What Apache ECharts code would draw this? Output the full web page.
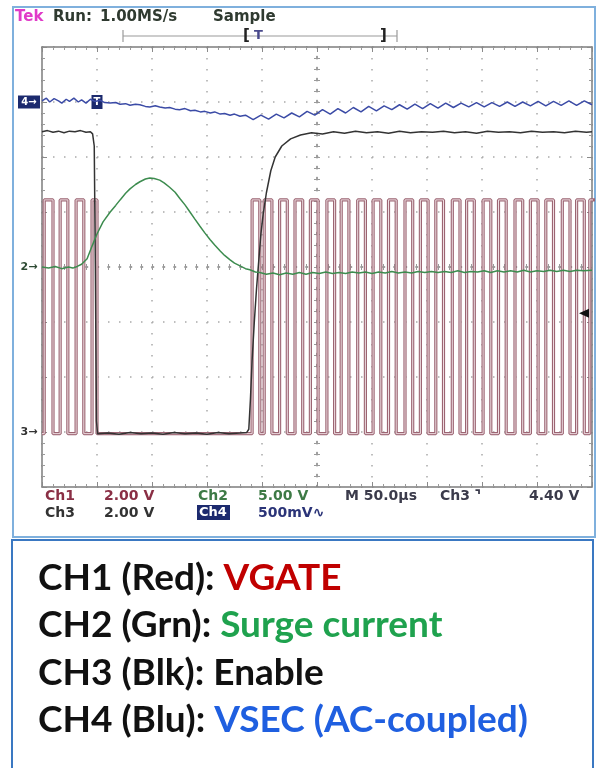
<!DOCTYPE html>
<html lang="en">
<head>
<meta charset="UTF-8">
<title>Scope capture</title>
<script src="https://cdn.jsdelivr.net/npm/echarts@6/dist/echarts.min.js"></script>
<style>
    html, body { margin: 0; padding: 0; background: #fff; }
    #chart { width: 597px; height: 768px; }
</style>
</head>
<body>
<div id="chart"></div>
<script>
// time in µs (10 div x 50 µs), amplitude in screen divisions (0 = bottom graticule line)

// CH1 VGATE: gate pulse edges
var redRise = [2, 16.5, 31, 45.5, 191, 202, 216, 230, 244, 259, 272, 287, 301, 315, 330, 344, 358, 373, 386, 401, 415, 430, 444, 458, 473, 486, 498];
var redFall = [10, 23.5, 38, 50, 198, 209, 223, 237, 251, 266, 279, 294, 308, 322, 337, 351, 365, 380, 393, 408, 422, 437, 451, 465, 480, 493, 506];
var redLevels = [0.97, 5.22]; // low, high

// CH2 surge current
var ch2 = [[0,4.0],[6,3.98],[12,4.01],[18,3.97],[24,4.0],[28,3.98],[32,4.01],[36,4.05],[41,4.15],[45.5,4.38],[50,4.6],[55.5,4.82],[62,5.0],[67,5.12],[71,5.22],[76,5.34],[80,5.42],[85,5.5],[89,5.55],[94,5.6],[98,5.62],[102,5.61],[107,5.58],[111,5.53],[116,5.45],[121,5.36],[125.5,5.24],[130,5.13],[134.5,5.0],[139,4.87],[143.6,4.74],[148,4.62],[152.7,4.5],[157,4.4],[162,4.29],[166,4.21],[171,4.13],[175,4.07],[180,4.02],[185,3.97],[189,3.95],[194,3.91],[198,3.9],[204,3.87],[210,3.89],[216,3.86],[222,3.89],[228,3.87],[234,3.9],[240,3.87],[246,3.9],[252,3.88],[258,3.91],[264,3.88],[270,3.9],[276,3.88],[282,3.91],[288,3.89],[294,3.91],[300,3.88],[306,3.91],[312,3.89],[318,3.92],[324,3.89],[330,3.91],[336,3.89],[342,3.92],[348,3.9],[354,3.92],[360,3.9],[366,3.92],[372,3.9],[378,3.93],[384,3.9],[390,3.92],[396,3.91],[402,3.93],[408,3.9],[414,3.93],[420,3.91],[426,3.93],[432,3.91],[438,3.94],[444,3.91],[450,3.93],[456,3.92],[462,3.94],[468,3.92],[474,3.94],[480,3.92],[486,3.94],[492,3.93],[500,3.94]];

// CH3 enable
var ch3 = [[0,6.46],[5,6.48],[10,6.45],[15,6.47],[20,6.44],[25,6.47],[30,6.46],[35,6.48],[40,6.45],[44,6.46],[46,6.42],[47.5,6.2],[48.5,4.0],[49.5,1.2],[50.5,0.97],[60,0.98],[70,0.96],[80,0.99],[90,0.97],[100,0.98],[110,0.96],[120,0.99],[130,0.97],[140,0.98],[150,0.96],[160,0.99],[170,0.97],[180,0.98],[186,0.99],[188,1.05],[189.5,1.6],[191,2.3],[193,3.0],[195,3.6],[197,4.1],[199,4.6],[201,4.95],[204,5.35],[208,5.75],[212,6.0],[218,6.2],[226,6.33],[235,6.4],[245,6.44],[255,6.42],[265,6.46],[275,6.43],[285,6.47],[295,6.44],[305,6.46],[315,6.43],[325,6.47],[335,6.44],[345,6.46],[355,6.45],[365,6.47],[375,6.44],[385,6.46],[395,6.43],[405,6.47],[415,6.45],[425,6.46],[435,6.44],[445,6.47],[455,6.45],[465,6.46],[475,6.44],[485,6.47],[495,6.45],[500,6.46]];

// CH4 VSEC (AC-coupled)
var ch4 = [[0,7.02],[4,7.07],[7,7.0],[11,7.06],[15,7.02],[18,6.98],[22,7.05],[25,7.01],[29,7.07],[33,7.0],[36,7.04],[40,6.98],[44,7.05],[48,7.01],[53,7.03],[57,6.99],[62,6.98],[67,6.99],[71,6.96],[76,6.97],[80,6.94],[85,6.96],[89,6.95],[94,6.92],[98,6.91],[103,6.93],[107,6.91],[112,6.89],[116,6.9],[121,6.87],[125,6.86],[130,6.88],[135,6.84],[139,6.85],[144,6.82],[148,6.83],[153,6.8],[157,6.82],[162,6.78],[166,6.79],[171,6.76],[175,6.78],[180,6.74],[185,6.76],[192,6.68],[199,6.76],[206,6.69],[213,6.78],[220,6.71],[227,6.8],[234,6.73],[241,6.83],[248,6.76],[255,6.86],[262,6.78],[269,6.88],[276,6.8],[283,6.9],[290,6.82],[297,6.92],[304,6.84],[311,6.93],[318,6.86],[325,6.95],[332,6.87],[339,6.96],[346,6.88],[353,6.97],[360,6.89],[367,6.98],[374,6.9],[381,6.98],[388,6.91],[395,6.99],[402,6.91],[409,6.99],[416,6.92],[423,7.0],[430,6.92],[437,7.0],[444,6.93],[451,7.01],[458,6.93],[465,7.01],[472,6.94],[479,7.02],[486,6.94],[493,7.02],[500,6.95]];

// ground markers and trigger
var markerLevels = { ch2: 4.0, ch3: 1.0, ch4: 7.0 };
var trigTime = 50;
var trigLevel = 3.16;

var C1 = '#9c6573', C2 = '#3d8c4f', C3 = '#333333', C4 = '#3b4ba6', NAVY = '#1c2a6e';

var ch1 = [[0, redLevels[0]]];
for (var i = 0; i < redRise.length; i++) {
    ch1.push([redRise[i], redLevels[0]], [redRise[i], redLevels[1]],
             [redFall[i], redLevels[1]], [redFall[i], redLevels[0]]);
}

var chart = echarts.init(document.getElementById('chart'));

function edgeAxis(pos, isX) {
    var a = {
        gridIndex: 0, type: 'value', position: pos,
        min: 0, max: isX ? 500 : 8, interval: isX ? 50 : 1,
        axisLine: { onZero: false, lineStyle: { color: '#7d7d7d', width: 1.5 } },
        axisTick: { show: true, inside: true, length: 5, lineStyle: { color: '#8a8a8a' } },
        minorTick: { show: true, splitNumber: 5, length: 3, lineStyle: { color: '#9a9a9a' } },
        axisLabel: { show: false },
        splitLine: { show: false }
    };
    if (pos === 'bottom' || pos === 'left') {
        a.splitLine = { show: true, lineStyle: { color: '#a9a9a9', width: 1.5, type: [1.5, 9.5] } };
    }
    return a;
}
function centerAxis(pos, isX) {
    return {
        gridIndex: 1, type: 'value', position: pos,
        min: isX ? -5 : -4, max: isX ? 5 : 4, interval: 1,
        axisLine: { onZero: true, lineStyle: { color: '#9a9a9a', width: 1.5, type: [1.5, 9.5] } },
        axisTick: { show: true, inside: true, length: 3, lineStyle: { color: '#9a9a9a' } },
        minorTick: { show: true, splitNumber: 5, length: 3, lineStyle: { color: '#9a9a9a' } },
        axisLabel: { show: false },
        splitLine: { show: false }
    };
}

function txt(x, y, s, color, size) {
    return {
        type: 'text', z: 20,
        style: { x: x, y: y, text: s, fill: color, font: 'bold ' + size + 'px "DejaVu Sans"', textVerticalAlign: 'middle' }
    };
}

function legendLine(y, key, val, valColor) {
    return {
        type: 'text', z: 20,
        style: {
            x: 38, y: y, textVerticalAlign: 'middle',
            text: '{k|' + key + '}{v|' + val + '}',
            rich: {
                k: { fill: '#111', font: 'bold 37px Lato' },
                v: { fill: valColor, font: 'bold 37px Lato' }
            }
        }
    };
}

var option = {
    animation: false,
    backgroundColor: '#ffffff',
    grid: [
        { left: 42, top: 47, width: 550, height: 440 },
        { left: 42, top: 47, width: 550, height: 440 }
    ],
    xAxis: [edgeAxis('bottom', true), edgeAxis('top', true), centerAxis('bottom', true), centerAxis('top', true)],
    yAxis: [edgeAxis('left', false), edgeAxis('right', false), centerAxis('left', false), centerAxis('right', false)],
    series: [
        {
            name: 'CH1', type: 'line', data: ch1, showSymbol: false, z: 3,
            lineStyle: { color: C1, width: 3.2 }
        },
        {
            // pale core of the CH1 trace (scope draws it hollow)
            name: 'CH1core', type: 'line', data: ch1, showSymbol: false, z: 3,
            lineStyle: { color: '#eedde1', width: 1 }
        },
        {
            name: 'CH3', type: 'line', data: ch3, showSymbol: false, z: 4,
            lineStyle: { color: C3, width: 1.5 },
            markPoint: {
                silent: true, animation: false,
                data: [{
                    coord: [0, markerLevels.ch3], symbol: 'rect', symbolSize: [22, 13], symbolOffset: [-13, 0],
                    itemStyle: { color: 'rgba(0,0,0,0)' },
                    label: { show: true, formatter: '3→', color: '#333', fontSize: 11, fontWeight: 'bold', fontFamily: 'DejaVu Sans' }
                }]
            }
        },
        {
            name: 'CH2', type: 'line', data: ch2, showSymbol: false, z: 5,
            lineStyle: { color: C2, width: 1.5 },
            markPoint: {
                silent: true, animation: false,
                data: [{
                    coord: [0, markerLevels.ch2], symbol: 'rect', symbolSize: [22, 13], symbolOffset: [-13, 0],
                    itemStyle: { color: 'rgba(0,0,0,0)' },
                    label: { show: true, formatter: '2→', color: '#2d4a33', fontSize: 11, fontWeight: 'bold', fontFamily: 'DejaVu Sans' }
                }, {
                    coord: [500, trigLevel], symbol: 'triangle', symbolSize: [9, 10], symbolRotate: 90, symbolOffset: [-8, 0],
                    itemStyle: { color: '#111' }, label: { show: false }
                }]
            }
        },
        {
            name: 'CH4', type: 'line', data: ch4, showSymbol: false, z: 6,
            lineStyle: { color: C4, width: 1.5 },
            markPoint: {
                silent: true, animation: false,
                data: [{
                    coord: [0, markerLevels.ch4], symbol: 'rect', symbolSize: [22, 13], symbolOffset: [-13, 0],
                    itemStyle: { color: NAVY },
                    label: { show: true, formatter: '4→', color: '#fff', fontSize: 10, fontWeight: 'bold', fontFamily: 'DejaVu Sans' }
                }, {
                    coord: [trigTime, markerLevels.ch4], symbol: 'rect', symbolSize: [11, 14],
                    itemStyle: { color: NAVY },
                    label: { show: true, formatter: 'T', color: '#fff', fontSize: 10, fontWeight: 'bold', fontFamily: 'DejaVu Sans' }
                }]
            }
        }
    ],
    graphic: [
        // scope frame and legend box
        { type: 'rect', z: 0, shape: { x: 13, y: 7, width: 582, height: 530 }, style: { fill: '#fff', stroke: '#7fb0dd', lineWidth: 2 } },
        { type: 'rect', z: 0, shape: { x: 12, y: 540, width: 581, height: 240 }, style: { fill: '#fff', stroke: '#3a78c2', lineWidth: 2 } },
        // header
        txt(15, 17, 'Tek', '#e03ac8', 15),
        txt(53, 17, 'Run:', '#2f3a30', 15),
        txt(100, 17, '1.00MS/s', '#2f3a30', 15),
        txt(213, 17, 'Sample', '#2f3a30', 15),
        // record / trigger position bar
        { type: 'line', z: 20, shape: { x1: 123, y1: 36, x2: 397, y2: 36 }, style: { stroke: '#9a9a9a', lineWidth: 1.2 } },
        { type: 'line', z: 20, shape: { x1: 123, y1: 30, x2: 123, y2: 42 }, style: { stroke: '#9a9a9a', lineWidth: 1.2 } },
        { type: 'line', z: 20, shape: { x1: 397, y1: 30, x2: 397, y2: 42 }, style: { stroke: '#9a9a9a', lineWidth: 1.2 } },
        txt(243, 36, '[', '#222', 15),
        txt(254, 36, 'T', '#4a4a8c', 13),
        txt(380, 36, ']', '#222', 15),
        // readouts
        txt(45, 496, 'Ch1', '#8a2f45', 14),
        txt(104, 496, '2.00 V', '#8a2f45', 14),
        txt(198, 496, 'Ch2', '#3d7a45', 14),
        txt(258, 496, '5.00 V', '#3d7a45', 14),
        txt(345, 496, 'M 50.0µs', '#3b3b4b', 14),
        txt(440, 496, 'Ch3 ⌝', '#3b3b4b', 14),
        txt(529, 496, '4.40 V', '#3b3b4b', 14),
        txt(45, 513, 'Ch3', '#333', 14),
        txt(104, 513, '2.00 V', '#333', 14),
        { type: 'rect', z: 19, shape: { x: 197, y: 505, width: 33, height: 15 }, style: { fill: NAVY } },
        txt(199, 513, 'Ch4', '#fff', 13),
        txt(258, 513, '500mV∿', '#2b3478', 14),
        // legend text
        legendLine(578, 'CH1 (Red): ', 'VGATE', '#c00000'),
        legendLine(625, 'CH2 (Grn): ', 'Surge current', '#1fa24e'),
        legendLine(673, 'CH3 (Blk): ', 'Enable', '#111'),
        legendLine(720, 'CH4 (Blu): ', 'VSEC (AC-coupled)', '#1f5fe0')
    ]
};

chart.setOption(option);
</script>
</body>
</html>
